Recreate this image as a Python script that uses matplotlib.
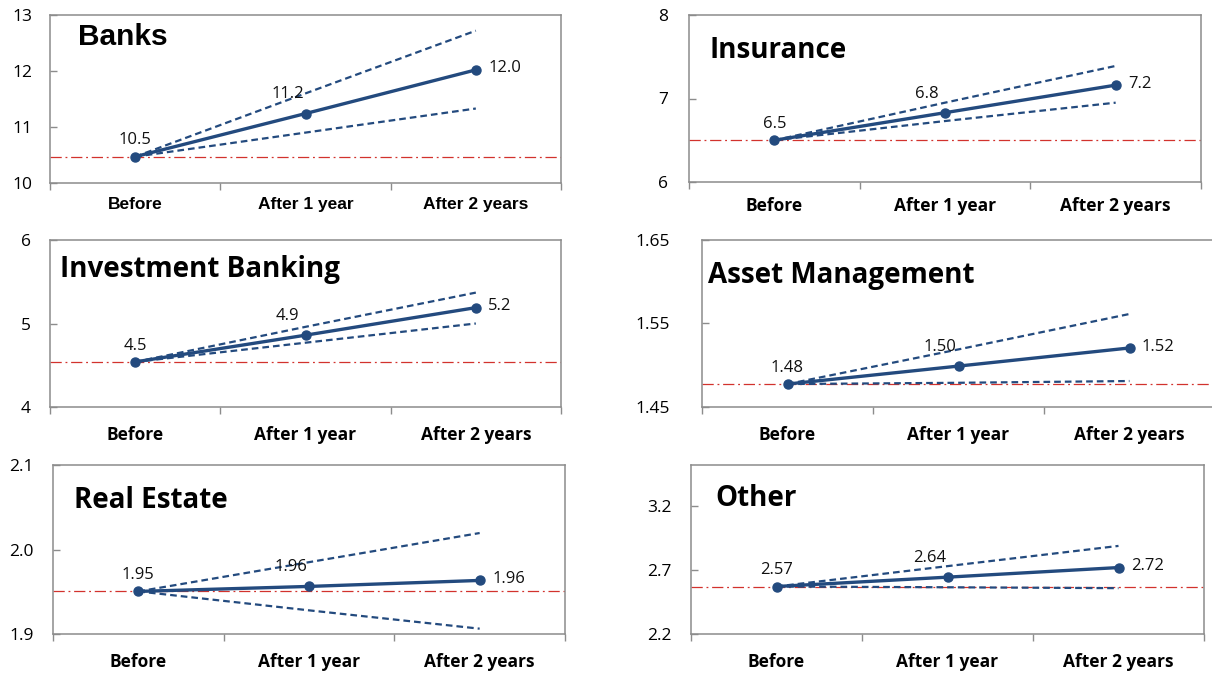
import matplotlib
matplotlib.use('Agg')
import matplotlib.pyplot as plt

# data (Before, After 1 year, After 2 years)
categories = ['Before', 'After 1 year', 'After 2 years']
panel_names = ['Banks', 'Insurance', 'Investment Banking', 'Asset Management', 'Real Estate', 'Other']

banks_mid = [10.47, 11.24, 12.02]
banks_hi = [10.47, 11.60, 12.72]
banks_lo = [10.47, 10.90, 11.33]

insurance_mid = [6.50, 6.83, 7.16]
insurance_hi = [6.50, 6.95, 7.39]
insurance_lo = [6.50, 6.73, 6.95]

ib_mid = [4.54, 4.86, 5.19]
ib_hi = [4.54, 4.96, 5.37]
ib_lo = [4.54, 4.77, 5.00]

am_mid = [1.4775, 1.499, 1.5207]
am_hi = [1.4775, 1.519, 1.5614]
am_lo = [1.4775, 1.479, 1.4811]

re_mid = [1.9504, 1.9563, 1.9634]
re_hi = [1.9504, 1.985, 2.0195]
re_lo = [1.9504, 1.928, 1.9063]

other_mid = [2.571, 2.644, 2.719]
other_hi = [2.571, 2.73, 2.888]
other_lo = [2.571, 2.565, 2.558]

y_ticks = [[10, 11, 12, 13], [6, 7, 8], [4, 5, 6], [1.45, 1.55, 1.65], [1.9, 2.0, 2.1], [2.2, 2.7, 3.2]]
y_tick_labels = [['10', '11', '12', '13'], ['6', '7', '8'], ['4', '5', '6'],
                 ['1.45', '1.55', '1.65'], ['1.9', '2.0', '2.1'], ['2.2', '2.7', '3.2']]
y_limits = [(10, 13), (6, 8), (4, 6), (1.45, 1.65), (1.9, 2.1), (2.2, 3.52)]
label_decimals = [1, 1, 1, 2, 2, 2]

mids = [banks_mid, insurance_mid, ib_mid, am_mid, re_mid, other_mid]
highs = [banks_hi, insurance_hi, ib_hi, am_hi, re_hi, other_hi]
lows = [banks_lo, insurance_lo, ib_lo, am_lo, re_lo, other_lo]

# layout in pixels: left, right, top, bottom
W, H = 1212, 677
boxes = [(50, 561, 15, 183), (689, 1201, 15, 182),
         (50, 561, 240, 407), (702, 1215, 240, 407),
         (53, 565, 465, 634), (691, 1204, 465, 634)]
title_pos = [(78, 37), (710, 51), (60, 269), (708, 275), (74, 500), (715, 498)]
title_size = [21.5, 20, 20, 20, 20, 20]
ylab_pad = [13, 15, 14, 23, 14, 14]
xlab_pad = [10, 11, 14, 14, 14, 14]

blue = '#234A7E'
red = '#D2322D'
spine_gray = '#8C8C8C'
font_main = 'Open Sans'

fig = plt.figure(figsize=(W / 100, H / 100), dpi=100)

for i in range(6):
    l, r, t, b = boxes[i]
    ax = fig.add_axes([l / W, 1 - b / H, (r - l) / W, (b - t) / H])
    x = list(range(len(categories)))
    fam = 'Liberation Sans' if i == 0 else font_main

    ax.axhline(mids[i][0], color=red, lw=0.9, ls=(0, (9, 3, 1.5, 3)), zorder=1)
    ax.plot(x, highs[i], color=blue, lw=1.6, ls=(0, (3, 1.8)), zorder=2)
    ax.plot(x, lows[i], color=blue, lw=1.6, ls=(0, (3, 1.8)), zorder=2)
    ax.plot(x, mids[i], color=blue, lw=2.4, marker='o', ms=6.5, zorder=3)

    # data labels: first and second above the point, last to the right
    fmt = '{:.%df}' % label_decimals[i]
    offsets = [(0, 6), (-13, 8), (9, 1)]
    aligns = [('center', 'bottom'), ('center', 'bottom'), ('left', 'center')]
    for j, v in enumerate(mids[i]):
        ax.annotate(fmt.format(v), (x[j], v), xytext=offsets[j], textcoords='offset points',
                    ha=aligns[j][0], va=aligns[j][1], fontsize=12, family=font_main, color='#111111')

    ax.set_xlim(-0.5, 2.5)
    ax.set_ylim(*y_limits[i])
    ax.set_yticks(y_ticks[i])
    ax.set_yticklabels(y_tick_labels[i], fontsize=12.5, family=font_main)
    ax.tick_params(axis='y', direction='in', length=5, width=1, color=spine_gray, pad=ylab_pad[i])

    ax.set_xticks(x)
    ax.set_xticklabels(categories, fontsize=12.5, fontweight='bold', family=fam)
    ax.set_xticks([-0.5, 0.5, 1.5, 2.5], minor=True)
    ax.tick_params(axis='x', which='major', length=0, pad=xlab_pad[i])
    ax.tick_params(axis='x', which='minor', direction='out', length=5, width=1, color=spine_gray)

    for s in ax.spines.values():
        s.set_color(spine_gray)
        s.set_linewidth(1.1)

    tx, ty = title_pos[i]
    fig.text(tx / W, 1 - ty / H, panel_names[i], fontsize=title_size[i], fontweight='bold',
             family=fam, ha='left', va='center')

fig.savefig('out.png', dpi=100)
